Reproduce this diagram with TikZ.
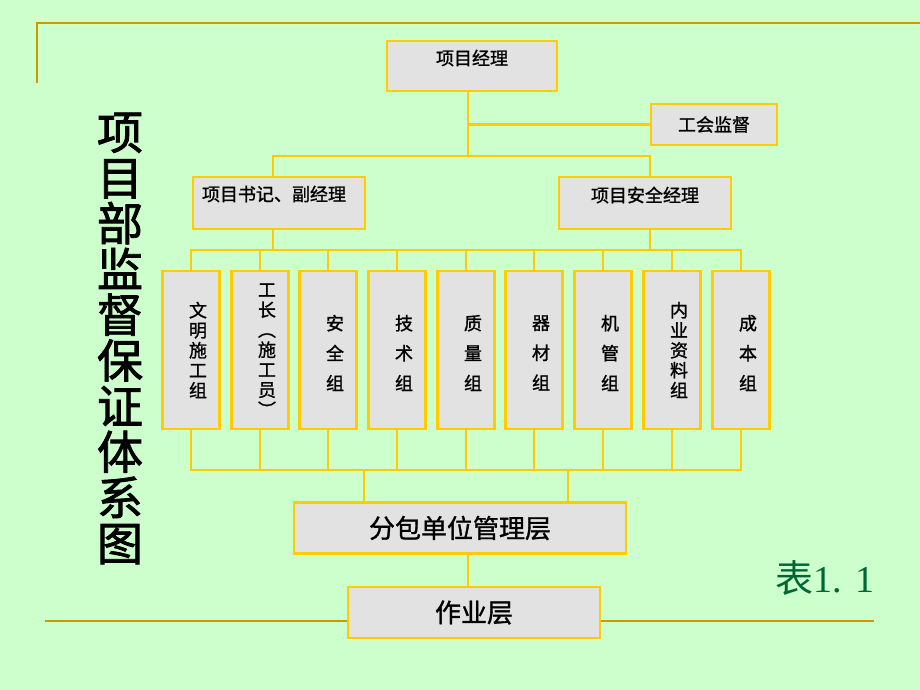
\documentclass[tikz,border=0pt]{standalone}
\usepackage{fontspec}
\setmainfont{Liberation Serif}
\newfontfamily\cjk{Noto Sans CJK SC}
\newfontfamily\cjkb[FakeBold=1.2]{Noto Sans CJK SC}
\newfontfamily\cjkhead[FakeBold=1.8]{Noto Sans CJK SC}
\definecolor{bg}{RGB}{204,255,204}
\definecolor{frame}{RGB}{204,153,0}
\definecolor{edge}{RGB}{255,204,0}
\definecolor{marble}{RGB}{226,226,226}
\definecolor{tabgreen}{RGB}{0,102,51}
\tikzset{
  box/.style={draw=edge, line width=2.4pt, fill=marble, inner sep=0pt},
  link/.style={draw=edge, line width=2pt},
  grp/.style={box, minimum width=57pt, minimum height=158pt},
  htxt/.style={font=\cjkb\fontsize{18}{20}\selectfont},
  vtxt/.style={font=\cjkb\fontsize{18}{20}\selectfont, align=center, inner sep=0pt},
  vtxtwide/.style={font=\cjkb\fontsize{18}{30}\selectfont, align=center, inner sep=0pt}
}
\begin{document}
\begin{tikzpicture}[x=1pt,y=-1pt]
	\fill[bg] (0,0) rectangle (920,690);
	\useasboundingbox (0,0) rectangle (920,690);
	
	% frame lines
	\draw[frame, line width=2.5pt] (37,83) -- (37,23) -- (920,23);
	\draw[frame, line width=2.5pt] (45,621) -- (874,621);
	
	% title
	\node[font=\cjkhead\fontsize{46}{45.7}\selectfont, align=center, inner sep=0pt] (title) at (120,338.5) {项\\目\\部\\监\\督\\保\\证\\体\\系\\图};
	
	% top levels
	\node[box, minimum width=170pt, minimum height=50pt, label={[htxt, yshift=8pt]center:项目经理}] (pm) at (472,66) {};
	\node[box, minimum width=126pt, minimum height=41pt, label={[htxt]center:工会监督}] (un) at (714,124.5) {};
	\node[box, minimum width=172pt, minimum height=52pt, label={[htxt, xshift=-5pt, yshift=9pt]center:项目书记、副经理}] (sec) at (279,203) {};
	\node[box, minimum width=172pt, minimum height=52pt, label={[htxt, yshift=8pt]center:项目安全经理}] (safe) at (645,203) {};
	
	% groups
	\node[grp, label={[vtxt, xshift=7pt]center:文\\明\\施\\工\\组}] (g1) at (191,350) {};
	\node[grp, label={[vtxt, xshift=7pt]center:工\\长\\︵\\施\\工\\员\\︶}] (g2) at (260,350) {};
	\node[grp, label={[vtxtwide, xshift=7pt, yshift=-3pt]center:安\\全\\组}] (g3) at (328,350) {};
	\node[grp, label={[vtxtwide, xshift=7pt, yshift=-3pt]center:技\\术\\组}] (g4) at (397,350) {};
	\node[grp, label={[vtxtwide, xshift=7pt, yshift=-3pt]center:质\\量\\组}] (g5) at (466,350) {};
	\node[grp, label={[vtxtwide, xshift=7pt, yshift=-3pt]center:器\\材\\组}] (g6) at (534,350) {};
	\node[grp, label={[vtxtwide, xshift=7pt, yshift=-3pt]center:机\\管\\组}] (g7) at (603,350) {};
	\node[grp, label={[vtxt, xshift=7pt]center:内\\业\\资\\料\\组}] (g8) at (672,350) {};
	\node[grp, label={[vtxtwide, xshift=7pt, yshift=-3pt]center:成\\本\\组}] (g9) at (741,350) {};
	
	% lower levels
	\node[box, minimum width=332pt, minimum height=51pt, font=\cjkb\fontsize{26}{28}\selectfont] (sub) at (460,528) {分包单位管理层};
	\node[box, minimum width=252pt, minimum height=51pt, font=\cjkb\fontsize{26}{28}\selectfont] (work) at (474,612.5) {作业层};
	
	\node[text=tabgreen, font=\fontsize{38}{40}\selectfont] (tab) at (825,578) {{\cjk 表}1. 1};
	
	% connectors
	\coordinate (trunk) at (468,156);
	\coordinate (lft) at (273,156);
	\coordinate (rgt) at (650,156);
	\coordinate (busT) at (0,250);
	\coordinate (busB) at (0,470);
	\coordinate (dl) at (364,470);
	\coordinate (dr) at (568,470);
	
	\draw[link] (pm.south -| trunk) -- (trunk);
	\draw[link] (trunk |- un.west) -- (un.west);
	\draw[link] (sec.north -| lft) -- (lft) -- (rgt) -- (safe.north -| rgt);
	\draw[link] (sec.south -| lft) -- (lft |- busT);
	\draw[link] (safe.south -| rgt) -- (rgt |- busT);
	\draw[link] (g1.north) -- (g1.north |- busT) -| (g9.north);
	\draw[link] (g1.south) -- (g1.south |- busB) -| (g9.south);
	\foreach \i in {2,...,8}{
		\draw[link] (g\i.north) -- (g\i.north |- busT);
		\draw[link] (g\i.south) -- (g\i.south |- busB);
	}
	\draw[link] (dl) -- (dl |- sub.north);
	\draw[link] (dr) -- (dr |- sub.north);
	\draw[link] (sub.south -| trunk) -- (work.north -| trunk);
\end{tikzpicture}
\end{document}
